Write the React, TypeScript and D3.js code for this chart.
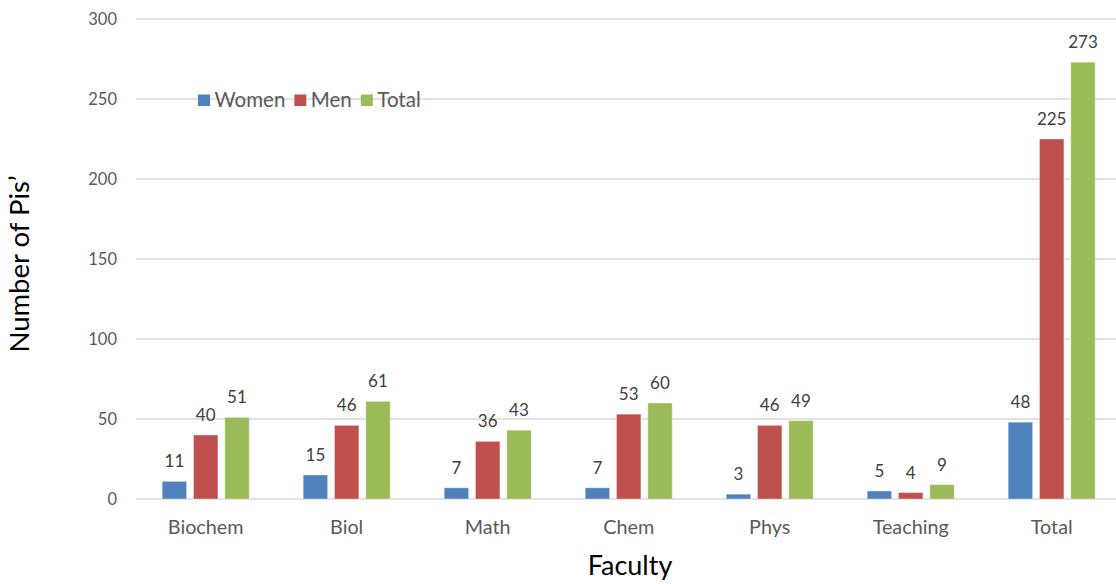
import React, { useEffect, useRef } from "react";
import * as d3 from "d3";

const categories = ["Biochem", "Biol", "Math", "Chem", "Phys", "Teaching", "Total"];
const seriesNames = ["Women", "Men", "Total"];
const women = [11, 15, 7, 7, 3, 5, 48];
const men = [40, 46, 36, 53, 46, 4, 225];
const total = [51, 61, 43, 60, 49, 9, 273];
const yTicks = [0, 50, 100, 150, 200, 250, 300];
const colors = ["#4F81BD", "#C0504D", "#9BBB59"];

const W = 1116;
const H = 584;
const FONT = "Lato, 'Open Sans', sans-serif";

export default function App() {
  const ref = useRef<SVGSVGElement>(null);

  useEffect(() => {
    const svg = d3.select(ref.current);
    svg.selectAll("*").remove();
    const seriesValues = [women, men, total];

    const y = d3.scaleLinear().domain([0, 300]).range([499, 19]);
    const x0 = d3
      .scaleBand<string>()
      .domain(categories)
      .range([135.2, 1122.2])
      .paddingInner(0.383)
      .paddingOuter(0.1915);
    const x1 = d3
      .scaleBand<string>()
      .domain(seriesNames)
      .range([0, x0.bandwidth()])
      .paddingInner(0.22)
      .paddingOuter(0);

    // gridlines
    svg
      .append("g")
      .selectAll("line")
      .data(yTicks)
      .join("line")
      .attr("x1", 136)
      .attr("x2", 1122)
      .attr("y1", (d) => y(d))
      .attr("y2", (d) => y(d))
      .attr("stroke", "#d9d9d9")
      .attr("stroke-width", 1.3);

    // y tick labels
    svg
      .append("g")
      .selectAll("text")
      .data(yTicks)
      .join("text")
      .attr("x", 117)
      .attr("y", (d) => y(d))
      .attr("dy", "0.36em")
      .attr("text-anchor", "end")
      .attr("font-family", FONT)
      .attr("font-size", 16.5)
      .attr("fill", "#595959")
      .text((d) => d);

    // bars
    const groups = svg
      .append("g")
      .selectAll("g")
      .data(categories)
      .join("g")
      .attr("transform", (c) => `translate(${x0(c)},0)`);

    groups
      .selectAll("rect")
      .data((c) => seriesNames.map((s, k) => ({ s, k, v: seriesValues[k][categories.indexOf(c)] })))
      .join("rect")
      .attr("x", (d) => x1(d.s)!)
      .attr("width", x1.bandwidth())
      .attr("y", (d) => y(d.v))
      .attr("height", (d) => y(0) - y(d.v))
      .attr("fill", (d) => colors[d.k])
      .attr("stroke", "#ffffff")
      .attr("stroke-opacity", 0.35)
      .attr("stroke-width", 1);

    groups
      .selectAll("text")
      .data((c) => seriesNames.map((s, k) => ({ s, k, v: seriesValues[k][categories.indexOf(c)] })))
      .join("text")
      .attr("x", (d) => x1(d.s)! + x1.bandwidth() / 2)
      .attr("y", (d) => y(d.v) - 14)
      .attr("text-anchor", "middle")
      .attr("font-family", FONT)
      .attr("font-size", 17)
      .attr("fill", "#404040")
      .text((d) => d.v);

    // category labels
    svg
      .append("g")
      .selectAll("text")
      .data(categories)
      .join("text")
      .attr("x", (c) => x0(c)! + x0.bandwidth() / 2)
      .attr("y", 534)
      .attr("text-anchor", "middle")
      .attr("font-family", FONT)
      .attr("font-size", 19.8)
      .attr("fill", "#595959")
      .text((c) => c);

    // axis titles
    svg
      .append("text")
      .attr("x", 630)
      .attr("y", 575)
      .attr("text-anchor", "middle")
      .attr("font-family", FONT)
      .attr("font-size", 27)
      .attr("fill", "#000")
      .text("Faculty");

    svg
      .append("text")
      .attr("transform", "translate(29,264) rotate(-90)")
      .attr("text-anchor", "middle")
      .attr("font-family", FONT)
      .attr("font-size", 27.5)
      .attr("fill", "#000")
      .text("Number of Pis\u2019");

    // legend
    const legend = svg.append("g");
    let lx = 198;
    seriesNames.forEach((s, k) => {
      legend
        .append("rect")
        .attr("x", lx)
        .attr("y", 94.5)
        .attr("width", 12)
        .attr("height", 11.5)
        .attr("fill", colors[k]);
      const t = legend
        .append("text")
        .attr("x", lx + 16.5)
        .attr("y", 107)
        .attr("font-family", FONT)
        .attr("font-size", 20.5)
        .attr("fill", "#595959")
        .text(s);
      const w = (t.node() as SVGTextElement).getComputedTextLength();
      lx = lx + 16.5 + w + 9;
    });
  }, []);

  return (
    <svg
      ref={ref}
      width={W}
      height={H}
      style={{ position: "absolute", left: 0, top: 0, background: "#fff" }}
    />
  );
}
